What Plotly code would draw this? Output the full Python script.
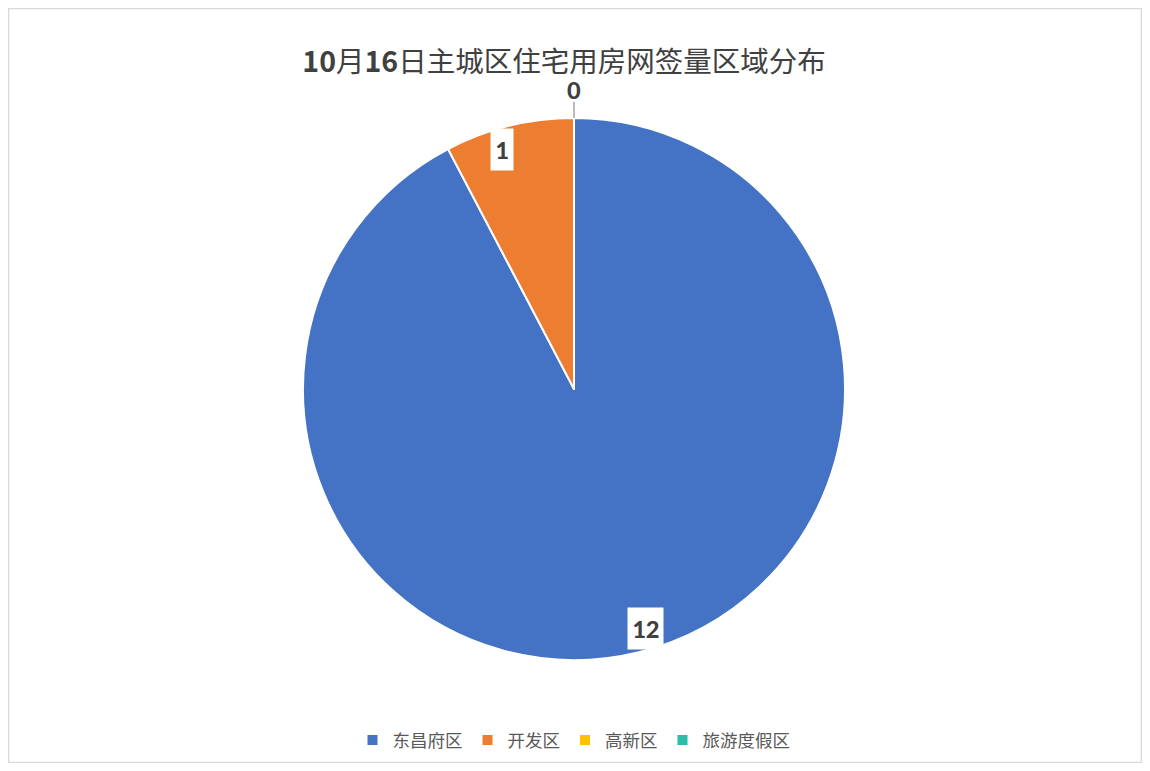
import numpy as np
import plotly.graph_objects as go

title_text = "<b>10</b>月<b>16</b>日主城区住宅用房网签量区域分布"
categories = ["东昌府区", "开发区", "高新区", "旅游度假区"]
values = [12, 1, 0, 0]
colors = ["#4472C4", "#ED7D31", "#FFC000", "#2BBDAA"]

OFF = 8  # page body margin in the browser
W, H = 1150 - 2 * OFF, 771 - 2 * OFF
cx_px, cy_px, R = 574 - OFF, 389 - OFF, 271  # pie centre (from top-left of figure) and radius

dom_x = [0, 2 * cx_px / W]
dom_y = [(H - cy_px - R) / H, (H - cy_px + R) / H]

fig = go.Figure()
fig.add_trace(go.Pie(
    labels=categories,
    values=values,
    marker=dict(colors=colors, line=dict(color="white", width=2)),
    sort=False,
    direction="clockwise",
    rotation=0,
    textinfo="none",
    hoverinfo="label+value",
    domain=dict(x=dom_x, y=dom_y),
    showlegend=True,
))

vals = np.array(values, dtype=float)
total = vals.sum()
ends = np.cumsum(vals) / total * 360.0
starts = ends - vals / total * 360.0
mids = (starts + ends) / 2.0

def to_paper(r_frac, ang_deg):
    a = np.radians(ang_deg)
    x = (cx_px + r_frac * R * np.sin(a)) / W
    y = (H - cy_px + r_frac * R * np.cos(a)) / H
    return x, y

label_font = dict(size=27, color="#404040", family="Carlito, Calibri, Liberation Sans, sans-serif")
annotations = []
shapes = []
zero_done = False
for v, m, e in zip(values, mids, ends):
    if v > 0:
        x, y = to_paper(0.922, m - 2.8)
        annotations.append(dict(
            x=x, y=y, xref="paper", yref="paper", text=f"<b>{v}</b>",
            showarrow=False, font=label_font,
            bgcolor="white", borderpad=4, xanchor="center", yanchor="middle"))
    elif not zero_done:
        zero_done = True
        x, y = to_paper(1.105, e)
        annotations.append(dict(
            x=x, y=y, xref="paper", yref="paper", text=f"<b>{v}</b>",
            showarrow=False, font=label_font,
            xanchor="center", yanchor="middle"))
        x0, y0 = to_paper(1.0, e)
        x1, y1 = to_paper(1.06, e)
        shapes.append(dict(type="line", xref="paper", yref="paper",
                           x0=x0, y0=y0, x1=x1, y1=y1,
                           line=dict(color="#A6A6A6", width=1.5)))

shapes.append(dict(type="rect", xref="paper", yref="paper", x0=0.0005, y0=0.0005, x1=0.9995, y1=0.9995,
                   line=dict(color="#D9D9D9", width=1.5)))

fig.update_layout(
    width=W, height=H,
    margin=dict(l=0, r=0, t=0, b=0),
    paper_bgcolor="white",
    plot_bgcolor="white",
    title=dict(text=title_text, x=(564 - OFF) / W, xanchor="center", y=(H - (62 - OFF)) / H, yanchor="middle",
               font=dict(size=28.5, color="#404040", family="Noto Sans CJK SC, sans-serif")),
    legend=dict(orientation="h", x=(574 - OFF) / W, xanchor="center", y=(H - (740 - OFF)) / H, yanchor="middle",
                font=dict(size=17.5, color="#595959", family="Noto Sans CJK SC, sans-serif"),
                itemwidth=30, traceorder="normal"),
    annotations=annotations,
    shapes=shapes,
)

fig.write_html("out.html")
